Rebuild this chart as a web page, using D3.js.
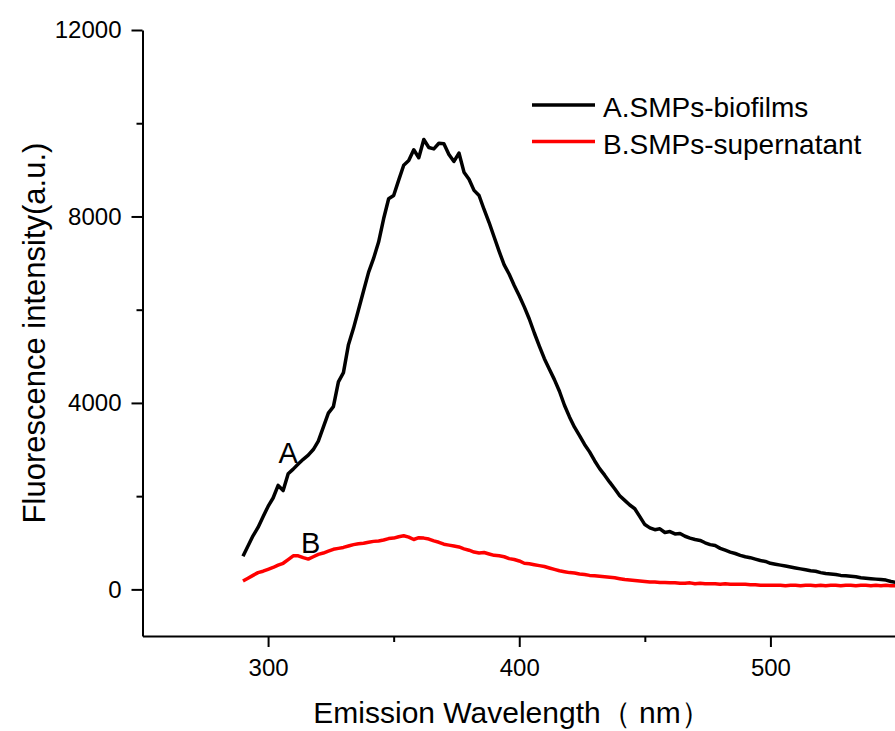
<!DOCTYPE html>
<html>
<head>
<meta charset="utf-8">
<script src="https://cdn.jsdelivr.net/npm/d3@7/dist/d3.min.js"></script>
<style>
	body { margin: 0; background: #fff; }
	text { font-family: Arial, "Liberation Sans", sans-serif; }
</style>
</head>
<body>
<div class="thegraph"></div>
<script>
// emission wavelength (nm)
var wavelength = [
	290, 292, 294, 296, 298, 300, 302, 304, 306, 308,
	310, 312, 314, 316, 318, 320, 322, 324, 326, 328,
	330, 332, 334, 336, 338, 340, 342, 344, 346, 348,
	350, 352, 354, 356, 358, 360, 362, 364, 366, 368,
	370, 372, 374, 376, 378, 380, 382, 384, 386, 388,
	390, 392, 394, 396, 398, 400, 402, 404, 406, 408,
	410, 412, 414, 416, 418, 420, 422, 424, 426, 428,
	430, 432, 434, 436, 438, 440, 442, 444, 446, 448,
	450, 452, 454, 456, 458, 460, 462, 464, 466, 468,
	470, 472, 474, 476, 478, 480, 482, 484, 486, 488,
	490, 492, 494, 496, 498, 500, 502, 504, 506, 508,
	510, 512, 514, 516, 518, 520, 522, 524, 526, 528,
	530, 532, 534, 536, 538, 540, 542, 544, 546, 548,
	550];

// A.SMPs-biofilms
var biofilms = [
	710, 930, 1150, 1330, 1560, 1780, 1960, 2230, 2120, 2480,
	2580, 2690, 2790, 2880, 3000, 3180, 3480, 3780, 3920, 4450,
	4650, 5250, 5600, 6000, 6400, 6800, 7100, 7450, 7950, 8380,
	8450, 8780, 9100, 9200, 9430, 9260, 9650, 9480, 9450, 9570,
	9560, 9330, 9180, 9360, 8950, 8800, 8560, 8450, 8150, 7870,
	7560, 7250, 6960, 6760, 6520, 6300, 6060, 5800, 5500, 5220,
	4950, 4720, 4500, 4250, 3950, 3700, 3480, 3300, 3110, 2950,
	2760, 2590, 2450, 2300, 2160, 2010, 1910, 1810, 1730, 1560,
	1390, 1320, 1280, 1300, 1220, 1240, 1190, 1200, 1140, 1100,
	1070, 1050, 1000, 960, 940, 880, 840, 800, 770, 730,
	700, 680, 650, 620, 600, 560, 540, 520, 500, 480,
	460, 440, 420, 400, 390, 360, 340, 330, 320, 300,
	290, 280, 270, 250, 240, 230, 220, 210, 200, 170,
	150];

// B.SMPs-supernatant
var supernatant = [
	180, 240, 300, 360, 390, 430, 470, 520, 560, 640,
	720, 720, 680, 650, 700, 750, 780, 820, 860, 880,
	900, 930, 960, 980, 990, 1010, 1030, 1040, 1060, 1090,
	1100, 1130, 1150, 1120, 1070, 1110, 1100, 1080, 1040, 1010,
	970, 950, 930, 910, 870, 840, 800, 780, 790, 760,
	730, 720, 700, 660, 640, 610, 560, 550, 530, 510,
	490, 460, 430, 400, 380, 360, 350, 330, 320, 300,
	290, 280, 270, 260, 250, 230, 210, 200, 190, 180,
	170, 160, 160, 150, 150, 140, 140, 130, 130, 140,
	120, 130, 120, 120, 120, 110, 120, 110, 110, 110,
	110, 100, 100, 90, 90, 90, 90, 90, 80, 90,
	90, 80, 90, 90, 80, 90, 80, 90, 90, 80,
	90, 90, 80, 90, 90, 80, 90, 80, 90, 80,
	80];

var seriesNames = ["A.SMPs-biofilms", "B.SMPs-supernatant"];
var seriesColors = ["#000000", "#ff0000"];

var xMajor = [300, 400, 500];
var xMinor = [350, 450];
var yMajor = [0, 4000, 8000, 12000];
var yMinor = [2000, 6000, 10000];

// curve letters, placed in data units (wavelength, intensity)
var curveLetters = ["A", "B"];
var letterX = [308, 317];
var letterY = [2720, 780];

(function() {
	var w = 895;
	var h = 731;

	var svg = d3.select(".thegraph").append("svg")
	.attr("width", w)
	.attr("height", h)
	;

	var x = d3.scaleLinear().domain([250, 550]).range([142.5, 896]);
	var y = d3.scaleLinear().domain([-1000, 12000]).range([636, 30]);

	var styleAxis = function(g) {
		g.selectAll("path, line")
		.attr("stroke", "#000")
		.attr("stroke-width", 2)
		;
		g.selectAll("text")
		.attr("fill", "#000")
		.attr("font-size", "24px")
		.attr("font-family", "Arial, 'Liberation Sans', sans-serif")
		;
	};

	// x axis
	svg.append("g")
	.attr("transform", "translate(0," + y(-1000) + ")")
	.call(d3.axisBottom(x).tickValues(xMajor).tickFormat(d3.format("d"))
		.tickSize(11).tickSizeOuter(0).tickPadding(12))
	.call(styleAxis)
	;
	svg.append("g")
	.attr("transform", "translate(0," + y(-1000) + ")")
	.call(d3.axisBottom(x).tickValues(xMinor).tickSize(6).tickFormat(""))
	.call(function(g) { g.select(".domain").remove(); })
	.call(styleAxis)
	;

	// y axis
	svg.append("g")
	.attr("transform", "translate(" + x(250) + ",0)")
	.call(d3.axisLeft(y).tickValues(yMajor).tickFormat(d3.format("d"))
		.tickSize(11).tickSizeOuter(0).tickPadding(10))
	.call(styleAxis)
	;
	svg.append("g")
	.attr("transform", "translate(" + x(250) + ",0)")
	.call(d3.axisLeft(y).tickValues(yMinor).tickSize(6).tickFormat(""))
	.call(function(g) { g.select(".domain").remove(); })
	.call(styleAxis)
	;

	// curves
	var series = [biofilms, supernatant];
	var line = d3.line()
	.x(function(d, i) { return x(wavelength[i]); })
	.y(function(d) { return y(d); })
	;
	svg.selectAll("path.curve")
	.data(series)
	.enter()
	.append("path")
	.attr("class", "curve")
	.attr("d", function(d) { return line(d); })
	.attr("fill", "none")
	.attr("stroke", function(d, i) { return seriesColors[i]; })
	.attr("stroke-width", 3.5)
	.attr("stroke-linejoin", "round")
	;

	// letters on curves
	svg.selectAll("text.letter")
	.data(curveLetters)
	.enter()
	.append("text")
	.attr("class", "letter")
	.text(function(d) { return d; })
	.attr("x", function(d, i) { return x(letterX[i]); })
	.attr("y", function(d, i) { return y(letterY[i]); })
	.attr("text-anchor", "middle")
	.attr("font-size", "29px")
	.attr("fill", "#000")
	;

	// legend
	var legend = svg.selectAll("g.legend")
	.data(seriesNames)
	.enter()
	.append("g")
	.attr("class", "legend")
	.attr("transform", function(d, i) { return "translate(532," + (105 + i * 36.5) + ")"; })
	;
	legend.append("line")
	.attr("x1", 0)
	.attr("x2", 63)
	.attr("stroke", function(d, i) { return seriesColors[i]; })
	.attr("stroke-width", 3.5)
	;
	legend.append("text")
	.text(function(d) { return d; })
	.attr("x", 71)
	.attr("y", 12)
	.attr("font-size", "28px")
	.attr("fill", "#000")
	;

	// axis titles
	svg.append("text")
	.text("Emission Wavelength\uff08 nm\uff09")
	.attr("x", 512)
	.attr("y", 723)
	.attr("text-anchor", "middle")
	.attr("font-size", "30px")
	.attr("fill", "#000")
	;
	svg.append("text")
	.text("Fluorescence intensity(a.u.)")
	.attr("transform", "translate(45,333) rotate(-90)")
	.attr("text-anchor", "middle")
	.attr("font-size", "31px")
	.attr("fill", "#000")
	;
})();
</script>
</body>
</html>
